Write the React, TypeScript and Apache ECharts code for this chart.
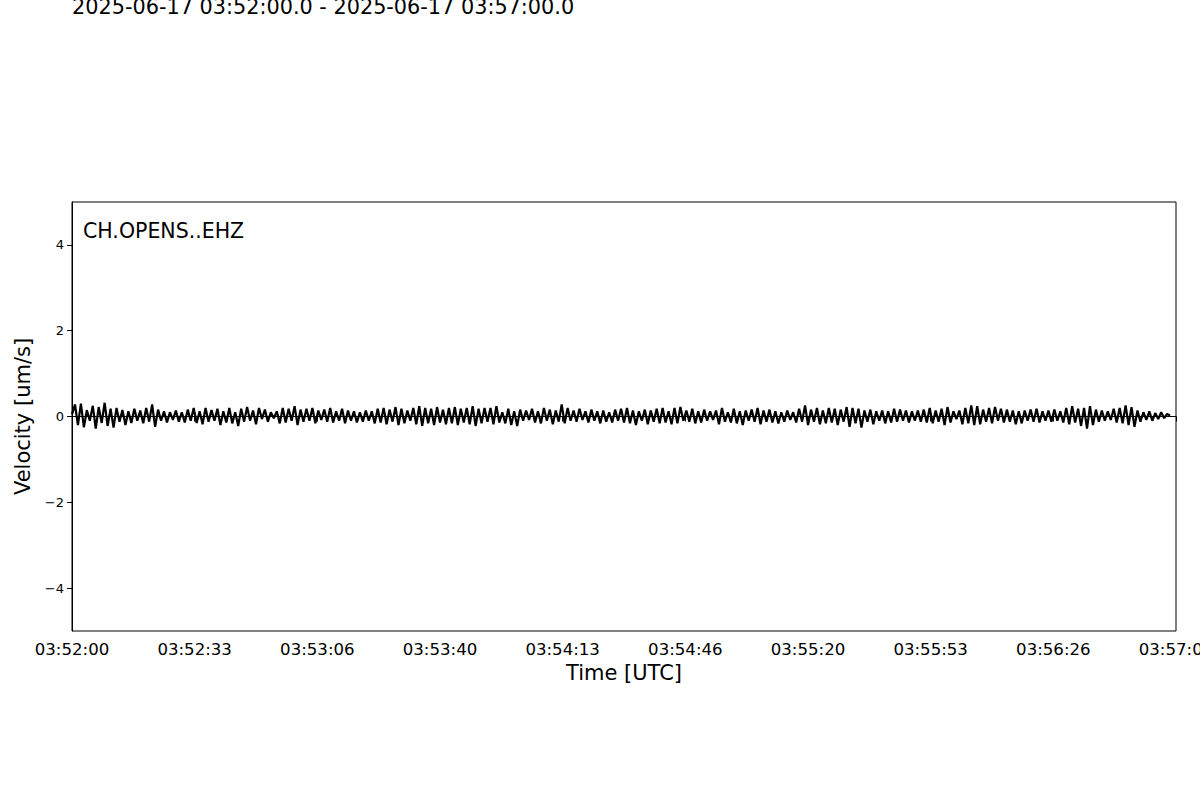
import React, { useEffect, useRef } from "react";
import * as echarts from "echarts";

const titleText = "2025-06-17 03:52:00.0 - 2025-06-17 03:57:00.0";
const stationLabel = "CH.OPENS..EHZ";
const xAxisName = "Time [UTC]";
const yAxisName = "Velocity [um/s]";
const startHour = 3;
const startMinute = 52;
const durationSeconds = 298.4; // seconds covered by the trace
const yTickValues = [-4, -2, 0, 2, 4];

// Velocity samples [um/s] (evenly spaced in time)
const velocitySeg1 = [0.05, 0.28, -0.2, 0.3, -0.25, 0.15, -0.1, 0.25, -0.28, 0.22, -0.15, 0.32, -0.22, 0.18, -0.26, 0.2, -0.12, 0.15, -0.2, 0.12, -0.15, 0.18, -0.1, 0.14, -0.16, 0.2, -0.12, 0.28, -0.24, 0.16, -0.1, 0.12, -0.14, 0.1, -0.08, 0.14, -0.12, 0.1, -0.14, 0.16, -0.1, 0.2, -0.15, 0.12, -0.18, 0.2, -0.12];
const velocitySeg2 = [0.15, -0.1, 0.18, -0.2, 0.12, -0.14, 0.2, -0.16, 0.1, -0.22, 0.18, -0.12, 0.22, -0.1, 0.14, -0.18, 0.2, -0.06, 0.16, -0.12, 0.1, -0.04, 0.12, -0.16, 0.2, -0.14, 0.18, -0.1, 0.24, -0.2, 0.16, -0.12, 0.18, -0.1, 0.2, -0.16, 0.14, -0.08, 0.16, -0.12, 0.2, -0.14, 0.12, -0.1, 0.18, -0.16, 0.14];
const velocitySeg3 = [-0.1, 0.12, -0.14, 0.1, -0.12, 0.14, -0.1, 0.12, -0.16, 0.18, -0.14, 0.2, -0.18, 0.16, -0.12, 0.22, -0.2, 0.18, -0.16, 0.14, -0.1, 0.2, -0.18, 0.24, -0.22, 0.2, -0.16, 0.18, -0.2, 0.22, -0.14, 0.16, -0.18, 0.2, -0.16, 0.22, -0.2, 0.18, -0.14, 0.2, -0.18, 0.24, -0.22, 0.18, -0.16, 0.2, -0.12];
const velocitySeg4 = [0.2, -0.18, 0.24, -0.14, 0.1, -0.16, 0.18, -0.2, 0.12, -0.22, 0.16, -0.1, 0.14, -0.08, 0.18, -0.14, 0.12, -0.16, 0.2, -0.1, 0.16, -0.18, 0.14, -0.12, 0.28, -0.16, 0.2, -0.1, 0.14, -0.12, 0.18, -0.08, 0.12, -0.14, 0.16, -0.1, 0.12, -0.16, 0.14, -0.12, 0.1, -0.14, 0.16, -0.1, 0.18, -0.14, 0.2];
const velocitySeg5 = [-0.16, 0.14, -0.2, 0.12, -0.1, 0.16, -0.18, 0.14, -0.12, 0.18, -0.16, 0.2, -0.14, 0.12, -0.18, 0.2, -0.16, 0.22, -0.1, 0.14, -0.12, 0.18, -0.16, 0.12, -0.14, 0.16, -0.1, 0.12, -0.08, 0.14, -0.18, 0.2, -0.12, 0.1, -0.14, 0.18, -0.16, 0.12, -0.2, 0.14, -0.1, 0.16, -0.12, 0.2, -0.18, 0.14, -0.12];
const velocitySeg6 = [0.16, -0.14, 0.12, -0.16, 0.1, -0.12, 0.14, -0.08, 0.1, -0.14, 0.18, -0.12, 0.26, -0.2, 0.16, -0.12, 0.2, -0.18, 0.14, -0.16, 0.2, -0.14, 0.18, -0.2, 0.16, -0.12, 0.22, -0.24, 0.2, -0.16, 0.18, -0.26, 0.14, -0.12, 0.16, -0.18, 0.12, -0.1, 0.14, -0.16, 0.12, -0.14, 0.18, -0.12, 0.16, -0.1, 0.14];
const velocitySeg7 = [-0.14, 0.12, -0.1, 0.14, -0.12, 0.16, -0.14, 0.2, -0.16, 0.14, -0.12, 0.18, -0.2, 0.22, -0.14, 0.12, -0.06, 0.14, -0.18, 0.2, -0.16, 0.26, -0.2, 0.24, -0.18, 0.16, -0.12, 0.2, -0.16, 0.22, -0.1, 0.18, -0.14, 0.16, -0.12, 0.14, -0.18, 0.12, -0.16, 0.14, -0.1, 0.16, -0.12, 0.18, -0.14, 0.12, -0.1];
const velocitySeg8 = [0.14, -0.12, 0.16, -0.1, 0.12, -0.14, 0.2, -0.18, 0.24, -0.14, 0.18, -0.22, 0.2, -0.28, 0.24, -0.2, 0.16, -0.12, 0.14, -0.1, 0.12, -0.08, 0.18, -0.14, 0.2, -0.16, 0.26, -0.2, 0.22, -0.24, 0.14, -0.12, 0.1, -0.08, 0.12, -0.1, 0.08, -0.06, 0.1, -0.04, 0.06, 0.02];

const FONT = "'DejaVu Sans', sans-serif";

function pad(n: number) {
  return n < 10 ? "0" + n : String(n);
}

function formatTime(sec: number) {
  const s = Math.floor(sec + 1e-6);
  const total = startHour * 3600 + startMinute * 60 + s;
  const h = Math.floor(total / 3600);
  const m = Math.floor((total % 3600) / 60);
  const ss = total % 60;
  return pad(h) + ":" + pad(m) + ":" + pad(ss);
}

export default function App() {
  const ref = useRef<HTMLDivElement>(null);

  useEffect(() => {
    if (!ref.current) return;
    const chart = echarts.init(ref.current, undefined, { renderer: "svg" });
    const velocity = [
      ...velocitySeg1, ...velocitySeg2, ...velocitySeg3, ...velocitySeg4,
      ...velocitySeg5, ...velocitySeg6, ...velocitySeg7, ...velocitySeg8,
    ];
    const n = velocity.length;
    const dt = durationSeconds / (n - 1);
    // x in units of 1/3 second so that tick spacing (33.33 s) becomes 100
    const data = velocity.map((v, i) => [i * dt * 3, v]);

    chart.setOption({
      animation: false,
      backgroundColor: "#ffffff",
      textStyle: { fontFamily: FONT },
      grid: {
        left: 72, right: 24, top: 202, bottom: 169,
        containLabel: false,
        outerBoundsMode: "none",
        show: true, borderColor: "#000", borderWidth: 1, backgroundColor: "transparent",
      },
      graphic: [
        {
          type: "text", left: 72, top: -4,
          style: { text: titleText, fontSize: 20.8, fontFamily: FONT, fill: "#000" },
        },
        {
          type: "text", left: 83, top: 220,
          style: { text: stationLabel, fontSize: 20.5, fontFamily: FONT, fill: "#000" },
        },
      ],
      xAxis: {
        type: "value",
        min: 0, max: 900, interval: 100,
        name: xAxisName, nameLocation: "middle", nameGap: 31,
        nameTextStyle: { fontSize: 21, color: "#000", fontFamily: FONT },
        axisLine: { show: true, lineStyle: { color: "#000", width: 1 } },
        axisTick: { show: true, length: 5, lineStyle: { color: "#000", width: 1 } },
        axisLabel: {
          color: "#000", fontSize: 16.6, fontFamily: FONT, margin: 10,
          showMaxLabel: true, showMinLabel: true, hideOverlap: false,
          formatter: (v: number) => formatTime(v / 3),
        },
        splitLine: { show: false },
      },
      yAxis: {
        type: "value",
        min: -5, max: 5,
        name: yAxisName, nameLocation: "middle", nameGap: 37,
        nameTextStyle: { fontSize: 21, color: "#000", fontFamily: FONT },
        axisLine: { show: true, lineStyle: { color: "#000", width: 1 } },
        axisTick: { show: true, length: 5, customValues: yTickValues, lineStyle: { color: "#000", width: 1 } },
        axisLabel: {
          color: "#000", fontSize: 13, fontFamily: FONT, margin: 8,
          customValues: yTickValues,
          formatter: (v: number) => (v < 0 ? "\u2212" + Math.abs(v) : String(v)),
        },
        splitLine: { show: false },
      },
      series: [
        {
          type: "line",
          data,
          showSymbol: false,
          symbol: "none",
          lineStyle: { color: "#000", width: 2.2 },
          clip: true,
        },
      ],
    });
    return () => chart.dispose();
  }, []);

  return (
    <div
      ref={ref}
      style={{ position: "fixed", left: 0, top: 0, width: 1200, height: 800, overflow: "hidden", background: "#fff" }}
    />
  );
}
